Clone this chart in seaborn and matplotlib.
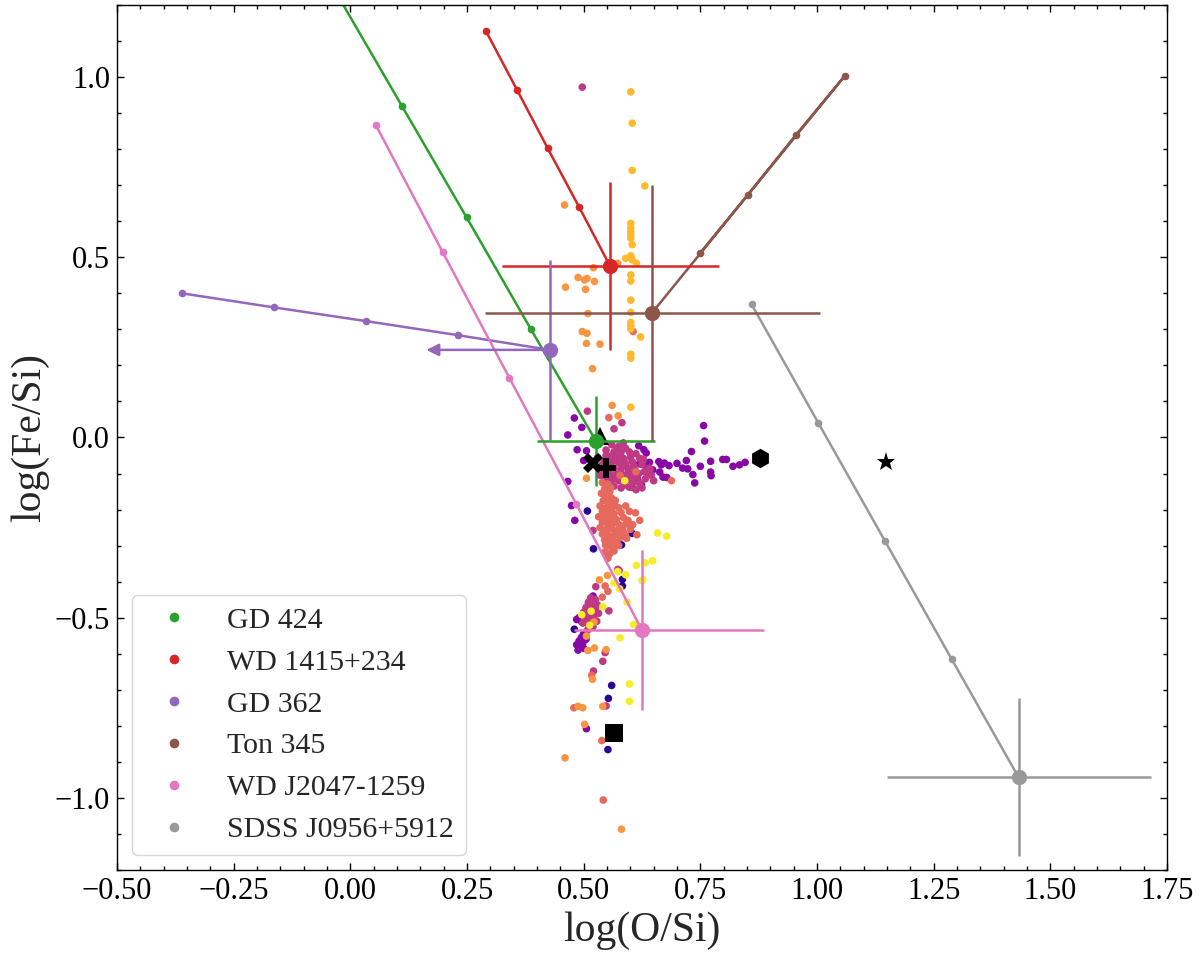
import numpy as np
import pandas as pd
import matplotlib
matplotlib.use("Agg")
import matplotlib.pyplot as plt
import seaborn as sns
from matplotlib.lines import Line2D
from matplotlib.ticker import MultipleLocator

sns.set_style("ticks")
plt.rcParams["font.family"] = ["Liberation Serif", "DejaVu Serif"]
plt.rcParams["axes.unicode_minus"] = True

# ---------------- data: model tracks (small dots) + observed points -------------
names = ["GD 424", "WD 1415+234", "GD 362", "Ton 345", "WD J2047-1259", "SDSS J0956+5912"]
colors = ["#2ca02c", "#d62728", "#9467bd", "#8c564b", "#e377c2", "#999999"]

gd424_tx = [-0.029, 0.110, 0.249, 0.387]
gd424_ty = [1.231, 0.921, 0.611, 0.300]
wd1415_tx = [0.290, 0.357, 0.423, 0.490]
wd1415_ty = [1.129, 0.965, 0.802, 0.640]
gd362_tx = [-0.361, -0.164, 0.033, 0.230]
gd362_ty = [0.400, 0.361, 0.323, 0.284]
ton345_tx = [0.749, 0.852, 0.955, 1.060]
ton345_ty = [0.511, 0.674, 0.840, 1.004]
j2047_tx = [0.055, 0.198, 0.341, 0.484]
j2047_ty = [0.866, 0.514, 0.165, -0.184]
j0956_tx = [0.860, 1.003, 1.146, 1.289]
j0956_ty = [0.369, 0.040, -0.288, -0.616]

obs_x = [0.526, 0.556, 0.427, 0.646, 0.625, 1.432]
obs_y = [-0.009, 0.477, 0.243, 0.345, -0.535, -0.943]
obs_xerr_lo = [0.127, 0.232, 0.264, 0.358, 0.145, 0.283]
obs_xerr_hi = [0.127, 0.234, 0.0, 0.360, 0.262, 0.283]
obs_yerr = [0.125, 0.233, 0.249, 0.355, 0.222, 0.219]
obs_xuplim = [False, False, True, False, False, False]

tracks_x = [gd424_tx, wd1415_tx, gd362_tx, ton345_tx, j2047_tx, j0956_tx]
tracks_y = [gd424_ty, wd1415_ty, gd362_ty, ton345_ty, j2047_ty, j0956_ty]

# ---------------- data: comparison sample (colour value for plasma map) ----------
dark_x = [0.508, 0.604, 0.581, 0.521, 0.583, 0.583, 0.480, 0.560, 0.553, 0.552]
dark_y = [-0.204, -0.266, -0.298, -0.309, -0.394, -0.412, -0.532, -0.688, -0.724, -0.866]

purple_x = [0.618, 0.629, 0.634, 0.620, 0.634, 0.641, 0.661, 0.666, 0.673, 0.683,
            0.663, 0.670, 0.678, 0.720, 0.723, 0.734, 0.738, 0.750, 0.772, 0.772,
            0.773, 0.798, 0.806, 0.820, 0.834, 0.846, 0.609, 0.616, 0.604, 0.624,
            0.757, 0.759, 0.731, 0.480, 0.496, 0.466, 0.486, 0.506, 0.500, 0.466,
            0.474, 0.481, 0.490, 0.485, 0.495, 0.500, 0.495, 0.505, 0.490, 0.498,
            0.485, 0.492, 0.500, 0.488, 0.506, 0.520, 0.648, 0.700, 0.712]
purple_y = [-0.023, -0.034, -0.043, -0.073, -0.080, -0.069, -0.067, -0.076, -0.071, -0.078,
            -0.096, -0.110, -0.111, -0.064, -0.087, -0.103, -0.126, -0.080, -0.066, -0.096,
            -0.106, -0.061, -0.061, -0.080, -0.076, -0.069, -0.099, -0.120, -0.138, -0.132,
            0.033, -0.010, -0.039, 0.054, 0.028, 0.007, -0.034, -0.037, -0.064, -0.122,
            -0.189, -0.230, -0.500, -0.505, -0.510, -0.545, -0.555, -0.560, -0.565, -0.572,
            -0.575, -0.580, -0.585, -0.590, -0.808, -0.440, -0.090, -0.072, -0.085]

magenta_x = [0.560, 0.575, 0.590, 0.548, 0.565, 0.580, 0.598, 0.612, 0.555, 0.570,
             0.585, 0.600, 0.620, 0.545, 0.560, 0.575, 0.590, 0.605, 0.625, 0.640,
             0.550, 0.565, 0.580, 0.595, 0.610, 0.630, 0.540, 0.555, 0.570, 0.585,
             0.600, 0.615, 0.545, 0.560, 0.575, 0.592, 0.605, 0.620, 0.550, 0.565,
             0.580, 0.598, 0.612, 0.530, 0.535, 0.645, 0.650, 0.497, 0.508, 0.582,
             0.565, 0.520, 0.573, 0.576, 0.526, 0.554, 0.546, 0.541, 0.521, 0.548,
             0.515, 0.525, 0.510, 0.520, 0.530, 0.505, 0.515, 0.525, 0.500, 0.512,
             0.522, 0.532, 0.505, 0.518, 0.528, 0.498, 0.510, 0.520, 0.508,
             0.628, 0.638, 0.632, 0.642, 0.618, 0.608, 0.595, 0.583, 0.568, 0.553,
             0.540, 0.588, 0.603, 0.572, 0.558, 0.548, 0.537, 0.625, 0.572, 0.585,
             0.512, 0.518, 0.508, 0.525, 0.515, 0.502]
magenta_y = [-0.020, -0.025, -0.030, -0.035, -0.040, -0.042, -0.040, -0.045, -0.052, -0.055,
             -0.058, -0.055, -0.058, -0.065, -0.068, -0.070, -0.072, -0.068, -0.075, -0.085,
             -0.080, -0.085, -0.088, -0.085, -0.090, -0.095, -0.095, -0.100, -0.102, -0.105,
             -0.102, -0.110, -0.112, -0.118, -0.120, -0.118, -0.125, -0.128, -0.130, -0.135,
             -0.140, -0.138, -0.145, -0.055, -0.105, -0.105, -0.120, 0.972, 0.073, 0.041,
             0.024, -0.258, -0.366, -0.369, -0.414, -0.481, -0.597, -0.621, -0.648, -0.745,
             -0.445, -0.450, -0.458, -0.462, -0.465, -0.472, -0.476, -0.480, -0.485, -0.490,
             -0.495, -0.488, -0.500, -0.505, -0.510, -0.515, -0.518, -0.525, -0.535,
             -0.060, -0.100, -0.115, -0.090, -0.100, -0.080, -0.098, -0.078, -0.060, -0.090,
             -0.075, -0.132, -0.112, -0.110, -0.108, -0.050, -0.085, -0.140, -0.030, -0.015,
             -0.455, -0.470, -0.482, -0.470, -0.498, -0.508]

coral_x = [0.540, 0.552, 0.545, 0.556, 0.538, 0.548, 0.560, 0.542, 0.553, 0.566,
           0.535, 0.548, 0.560, 0.575, 0.590, 0.540, 0.552, 0.565, 0.580, 0.598,
           0.532, 0.545, 0.557, 0.570, 0.585, 0.540, 0.552, 0.563, 0.576, 0.590,
           0.535, 0.548, 0.560, 0.572, 0.585, 0.600, 0.540, 0.553, 0.566, 0.578,
           0.592, 0.545, 0.558, 0.570, 0.550, 0.562, 0.545, 0.556, 0.565, 0.552,
           0.554, 0.606, 0.688, 0.614, 0.611, 0.620, 0.546, 0.552, 0.540, 0.517,
           0.479, 0.539, 0.542, 0.578, 0.612,
           0.545, 0.560, 0.570, 0.583, 0.550, 0.562, 0.575, 0.547, 0.557, 0.568,
           0.546, 0.558, 0.595, 0.605, 0.588]
coral_y = [-0.125, -0.130, -0.142, -0.150, -0.155, -0.162, -0.168, -0.175, -0.180, -0.185,
           -0.190, -0.195, -0.198, -0.195, -0.190, -0.205, -0.210, -0.212, -0.208, -0.205,
           -0.220, -0.222, -0.225, -0.228, -0.222, -0.235, -0.240, -0.238, -0.242, -0.240,
           -0.250, -0.255, -0.252, -0.258, -0.262, -0.255, -0.268, -0.272, -0.270, -0.278,
           -0.280, -0.285, -0.290, -0.292, -0.302, -0.308, -0.318, -0.322, -0.315, -0.335,
           0.055, 0.294, -0.120, -0.270, -0.209, -0.230, -0.412, -0.427, -0.443, -0.660,
           -0.750, -0.841, -1.006, -0.105, -0.095,
           -0.232, -0.245, -0.265, -0.250, -0.262, -0.282, -0.300, -0.298, -0.200, -0.175,
           -0.170, -0.140, -0.230, -0.242, -0.270]

orange_x = [0.459, 0.521, 0.488, 0.502, 0.507, 0.523, 0.461, 0.504, 0.509, 0.497,
            0.507, 0.506, 0.535, 0.519, 0.561, 0.574, 0.506, 0.551, 0.534, 0.522,
            0.506, 0.523, 0.509, 0.548, 0.519, 0.488, 0.498, 0.541, 0.502, 0.460,
            0.581, 0.573]
orange_y = [0.645, 0.471, 0.444, 0.437, 0.441, 0.433, 0.417, 0.411, 0.344, 0.294,
            0.289, 0.261, 0.259, 0.191, 0.089, 0.060, -0.113, -0.383, -0.395, -0.512,
            -0.551, -0.584, -0.591, -0.589, -0.671, -0.746, -0.750, -0.746, -0.796, -0.889,
            -1.087, 0.483]

lorange_x = [0.601, 0.604, 0.604, 0.631, 0.601, 0.601, 0.601, 0.601, 0.601, 0.604,
             0.590, 0.601, 0.604, 0.613, 0.601, 0.601, 0.601, 0.601, 0.601, 0.601,
             0.601, 0.601, 0.601, 0.622, 0.601]
lorange_y = [0.959, 0.872, 0.741, 0.698, 0.594, 0.582, 0.571, 0.562, 0.553, 0.535,
             0.497, 0.504, 0.493, 0.483, 0.451, 0.434, 0.381, 0.347, 0.319, 0.310,
             0.301, 0.231, 0.220, 0.279, 0.084]

yellow_x = [0.658, 0.678, 0.613, 0.632, 0.648, 0.573, 0.590, 0.588, 0.625, 0.565,
            0.577, 0.627, 0.593, 0.541, 0.607, 0.578, 0.496, 0.516, 0.513, 0.598,
            0.598]
yellow_y = [-0.265, -0.274, -0.355, -0.348, -0.342, -0.372, -0.381, -0.120, -0.397, -0.404,
            -0.420, -0.395, -0.457, -0.469, -0.519, -0.556, -0.492, -0.482, -0.521, -0.684,
            -0.732]

group_values = [0.05, 0.28, 0.45, 0.62, 0.75, 0.85, 0.97]
group_x = [dark_x, purple_x, magenta_x, coral_x, orange_x, lorange_x, yellow_x]
group_y = [dark_y, purple_y, magenta_y, coral_y, orange_y, lorange_y, yellow_y]

# Black reference markers
ref_markers = ["^", "X", "P", "h", "*", "s"]
ref_x = [0.534, 0.520, 0.548, 0.877, 1.148, 0.565]
ref_y = [0.005, -0.071, -0.085, -0.058, -0.067, -0.819]
ref_ms = [13, 14, 14, 14, 14, 13]

# ---------------- figure ----------------
fig = plt.figure(figsize=(12, 9.58), dpi=100)
ax = fig.add_axes([0.0975, 0.0919, 0.875, 0.9029])

rows = []
for v, gx, gy in zip(group_values, group_x, group_y):
    for a, b in zip(gx, gy):
        rows.append((a, b, v))
sample = pd.DataFrame(rows, columns=["OSi", "FeSi", "val"])
sns.scatterplot(data=sample, x="OSi", y="FeSi", hue="val", palette="plasma",
                hue_norm=(0, 1), s=30, linewidth=0, legend=False, ax=ax, zorder=1)

for i in range(len(names)):
    lx = tracks_x[i] + [obs_x[i]]
    ly = tracks_y[i] + [obs_y[i]]
    sns.lineplot(x=lx, y=ly, sort=False, estimator=None, color=colors[i],
                 linewidth=1.8, marker="o", markersize=5.5, markeredgewidth=0,
                 ax=ax, zorder=2)
    if obs_xuplim[i]:
        xe = None
        ax.annotate("", xy=(obs_x[i] - obs_xerr_lo[i], obs_y[i]), xytext=(obs_x[i], obs_y[i]),
                    arrowprops=dict(arrowstyle="-|>", color=colors[i], lw=1.8,
                                    mutation_scale=18, shrinkA=0, shrinkB=0),
                    zorder=3)
    else:
        xe = [[obs_xerr_lo[i]], [obs_xerr_hi[i]]]
    ax.errorbar([obs_x[i]], [obs_y[i]], xerr=xe, yerr=[[obs_yerr[i]], [obs_yerr[i]]],
                fmt="o", ms=11, mew=0, color=colors[i], ecolor=colors[i],
                elinewidth=1.8, capsize=0, zorder=3)

for m, x, y, s in zip(ref_markers, ref_x, ref_y, ref_ms):
    zo = 2.5 if m == "^" else 4
    ax.plot([x], [y], marker=m, ms=s, color="black", mew=0, ls="none", zorder=zo)

ax.set_xlim(-0.5, 1.75)
ax.set_ylim(-1.2, 1.2)
ax.xaxis.set_major_locator(MultipleLocator(0.25))
ax.xaxis.set_minor_locator(MultipleLocator(0.05))
ax.yaxis.set_major_locator(MultipleLocator(0.5))
ax.yaxis.set_minor_locator(MultipleLocator(0.1))
ax.tick_params(which="both", direction="in", top=True, right=True, colors="black",
               width=1.0)
ax.tick_params(which="major", length=5, labelsize=22, pad=5)
ax.tick_params(which="minor", length=2.6)
for sp in ax.spines.values():
    sp.set_linewidth(1.0)
    sp.set_color("black")

ax.set_xlabel("log(O/Si)", fontsize=30, labelpad=4)
ax.set_ylabel("log(Fe/Si)", fontsize=30, labelpad=4)

handles = [Line2D([], [], marker="o", ls="none", color=c, ms=7, mew=0) for c in colors]
ax.legend(handles, names, loc="lower left", fontsize=21.5, frameon=True)

fig.savefig("out.png", dpi=100)
